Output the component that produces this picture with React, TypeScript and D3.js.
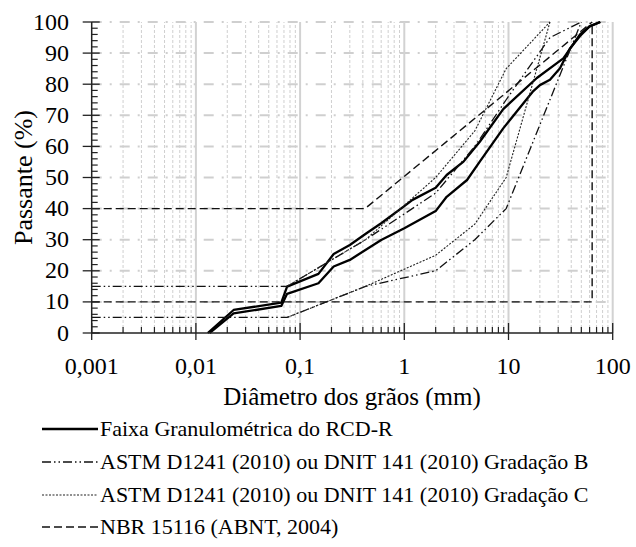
import React from "react";
import * as d3 from "d3";

// ---- data (diameter mm, % passing) ----
const rcdUpper: [number, number][] = [
  [0.013, 0], [0.023, 7.4], [0.066, 9.8], [0.075, 14.9], [0.15, 19.0], [0.21, 25.4],
  [0.3, 28.3], [0.43, 32], [0.6, 35.3], [1.0, 40.8], [1.2, 42.8], [2.0, 46.7],
  [2.55, 50.8], [3.7, 55.1], [5.3, 61.5], [8.9, 72], [18.7, 82], [33.6, 88.3],
  [48.6, 96.0], [60, 98.6], [76, 100],
];
const rcdLower: [number, number][] = [
  [0.0135, 0], [0.023, 6.3], [0.066, 8.7], [0.075, 12.6], [0.15, 16], [0.21, 21.4],
  [0.3, 23.5], [0.6, 29.9], [1.0, 33.7], [2.0, 39.2], [2.55, 43.8], [4.0, 49.2],
  [5.3, 55.1], [8.9, 65.8], [17.3, 77.8], [20, 79.7], [25, 81.4], [31.2, 85.1],
  [38.9, 91.5], [48.6, 95.5], [60, 98.6], [76, 100],
];
const gradBUpper: [number, number][] = [
  [0.001, 15], [0.075, 15], [0.425, 30], [2, 45], [4.75, 60], [9.5, 75], [25, 95], [50, 100],
];
const gradBLower: [number, number][] = [
  [0.001, 5], [0.075, 5], [0.425, 15], [2, 20], [4.75, 30], [9.5, 40], [25, 75], [50, 100],
];
const gradCUpper: [number, number][] = [
  [0.075, 15], [0.425, 30], [2, 50], [4.75, 65], [9.5, 85], [25, 100],
];
const gradCLower: [number, number][] = [
  [0.075, 5], [0.425, 15], [2, 25], [4.75, 35], [9.5, 50], [25, 100],
];
const nbrUpper: [number, number][] = [[0.001, 40], [0.42, 40], [63.5, 100]];
const nbrLower: [number, number][] = [[0.001, 10], [63.5, 10], [63.5, 100]];

const xTickValues = [0.001, 0.01, 0.1, 1, 10, 100];
const xTickLabels = ["0,001", "0,01", "0,1", "1", "10", "100"];
const yTickValues = [0, 10, 20, 30, 40, 50, 60, 70, 80, 90, 100];

const legendLabels = [
  "Faixa Granulométrica do RCD-R",
  "ASTM D1241 (2010) ou DNIT 141 (2010) Gradação B",
  "ASTM D1241 (2010) ou DNIT 141 (2010) Gradação C",
  "NBR 15116 (ABNT, 2004)",
];

const FONT = "Times New Roman";

const styleSolid = { stroke: "#000", strokeWidth: 2.3, dash: undefined as string | undefined };
const styleB = { stroke: "#111", strokeWidth: 1.3, dash: "9,3,1.5,3,1.5,3" };
const styleC = { stroke: "#222", strokeWidth: 1.1, dash: "2,1.5" };
const styleN = { stroke: "#111", strokeWidth: 1.4, dash: "8,4" };

export default function App() {
  const W = 636, H = 547;
  const x = d3.scaleLog().domain([0.001, 100]).range([91.7, 612.7]);
  const y = d3.scaleLinear().domain([0, 100]).range([333, 22]);
  const line = d3.line<[number, number]>().x((d) => x(d[0])).y((d) => y(d[1]));

  const minorX: number[] = [];
  for (let e = -3; e < 2; e++) {
    for (let m = 2; m <= 9; m++) minorX.push(m * Math.pow(10, e));
  }
  const minorY: number[] = d3.range(0, 101, 2).filter((v) => v % 10 !== 0);

  const series = [
    { data: rcdUpper, s: styleSolid },
    { data: rcdLower, s: styleSolid },
    { data: gradBUpper, s: styleB },
    { data: gradBLower, s: styleB },
    { data: gradCUpper, s: styleC },
    { data: gradCLower, s: styleC },
    { data: nbrUpper, s: styleN },
    { data: nbrLower, s: styleN },
  ];
  const legendStyles = [styleSolid, styleB, styleC, styleN];
  const legendY = [429, 462, 495, 527];

  return (
    <svg width={W} height={H} style={{ position: "absolute", left: 0, top: 0 }}>
      <rect x={0} y={0} width={W} height={H} fill="#fff" />
      {yTickValues.filter((v) => v > 0).map((v) => (
        <line key={"hg" + v} x1={x(0.001)} x2={x(100)} y1={y(v)} y2={y(v)}
          stroke="#cfcfcf" strokeWidth={2} strokeDasharray="10,8,2,8" />
      ))}
      {minorX.map((v, i) => (
        <line key={"vm" + i} x1={x(v)} x2={x(v)} y1={y(0)} y2={y(100)}
          stroke="#cfcfcf" strokeWidth={1} strokeDasharray="3,2" />
      ))}
      {xTickValues.slice(1).map((v) => (
        <line key={"vM" + v} x1={x(v)} x2={x(v)} y1={y(0)} y2={y(100)}
          stroke="#d2d2d2" strokeWidth={2} />
      ))}

      {series.map((sr, i) => (
        <path key={"s" + i} d={line(sr.data) || ""} fill="none" stroke={sr.s.stroke}
          strokeWidth={sr.s.strokeWidth} strokeDasharray={sr.s.dash} strokeLinejoin="round" />
      ))}

      <line x1={x(0.001)} x2={x(100)} y1={y(0)} y2={y(0)} stroke="#222" strokeWidth={1.5} />
      <line x1={x(0.001)} x2={x(0.001)} y1={y(0)} y2={y(100)} stroke="#222" strokeWidth={1.5} />
      {xTickValues.map((v) => (
        <line key={"xt" + v} x1={x(v)} x2={x(v)} y1={y(0) - 10} y2={y(0) + 7} stroke="#222" strokeWidth={1.3} />
      ))}
      {minorX.map((v, i) => (
        <line key={"xmt" + i} x1={x(v)} x2={x(v)} y1={y(0) - 6} y2={y(0)} stroke="#222" strokeWidth={1.2} />
      ))}
      {yTickValues.map((v) => (
        <line key={"yt" + v} x1={x(0.001) - 9} x2={x(0.001) + 8} y1={y(v)} y2={y(v)} stroke="#222" strokeWidth={1.3} />
      ))}
      {minorY.map((v) => (
        <line key={"ymt" + v} x1={x(0.001)} x2={x(0.001) + 6} y1={y(v)} y2={y(v)} stroke="#222" strokeWidth={1.2} />
      ))}

      {yTickValues.map((v) => (
        <text key={"yl" + v} fontFamily={FONT} x={69} y={y(v) + 7.5} textAnchor="end" fontSize={24}>{v}</text>
      ))}
      {xTickValues.map((v, i) => (
        <text key={"xl" + v} fontFamily={FONT} x={x(v)} y={374} textAnchor="middle" fontSize={24}>{xTickLabels[i]}</text>
      ))}

      <text fontFamily={FONT} x={352} y={405} textAnchor="middle" fontSize={25}>Diâmetro dos grãos (mm)</text>
      <text fontFamily={FONT} transform={`translate(32,${(y(0) + y(100)) / 2}) rotate(-90)`} textAnchor="middle" fontSize={26}>Passante (%)</text>

      {legendLabels.map((lab, i) => (
        <g key={"lg" + i}>
          <line x1={42} x2={98} y1={legendY[i]} y2={legendY[i]} stroke={legendStyles[i].stroke}
            strokeWidth={legendStyles[i].strokeWidth} strokeDasharray={legendStyles[i].dash} />
          <text fontFamily={FONT} x={100} y={legendY[i] + 7} fontSize={22}>{lab}</text>
        </g>
      ))}
    </svg>
  );
}
